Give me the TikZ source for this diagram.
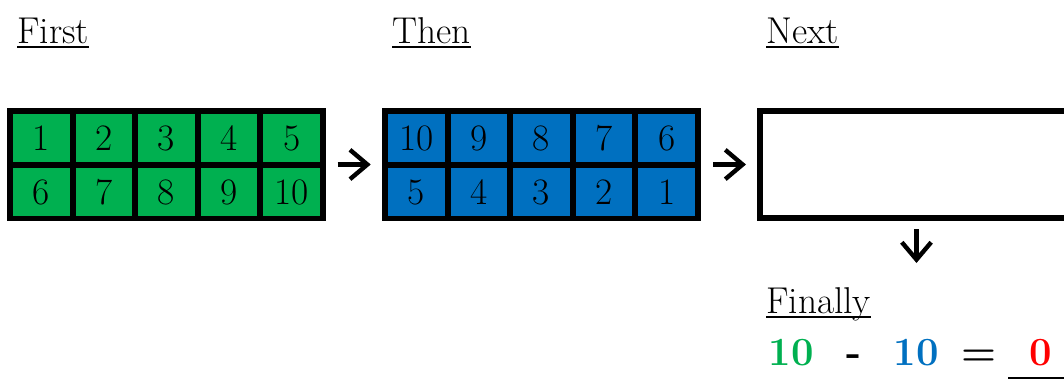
\documentclass[tikz,border=0pt]{standalone}
\usetikzlibrary{arrows.meta}
\definecolor{cgreen}{RGB}{0,176,80}
\definecolor{cblue}{RGB}{0,112,192}
\definecolor{cred}{RGB}{255,0,0}
\newcommand\myul[1]{\setbox0\hbox{#1}\rlap{\rule[-3.6pt]{\wd0}{1.6pt}}\box0}
\begin{document}
\begin{tikzpicture}[x=0.75pt,y=-0.75pt,
 frame/.style={fill=black, inner sep=0pt, minimum width=239.25pt, minimum height=84.75pt},
 cell/.style={inner sep=0pt, minimum width=42.45pt, minimum height=36pt, font=\fontsize{28}{30}\selectfont},
 greencell/.style={cell, fill=cgreen},
 bluecell/.style={cell, fill=cblue},
 emptybox/.style={draw=black, fill=white, line width=4.5pt, inner sep=0pt, minimum width=234.75pt, minimum height=80.25pt},
 title/.style={inner sep=0pt, anchor=base west, font=\fontsize{28}{30}\selectfont},
 eq/.style={inner sep=0pt, anchor=base, font=\fontsize{30}{32}\selectfont\bfseries},
 arr/.style={line width=3.3pt, -{Straight Barb[length=13pt,width=22pt]}},
 answerline/.style={line width=1.7pt},
]
\useasboundingbox (0,0) rectangle (1064,380);
\clip (0,0) rectangle (1064,380);

% titles
\node[title] (tfirst) at (17,43) {\myul{First}};
\node[title] (tthen) at (392,43) {\myul{Then}};
\node[title] (tnext) at (766,43) {\myul{Next}};
\node[title] (tfinally) at (766,313) {\myul{Finally}};

% first grid (green)
\node[frame] (gridA) at (166.5,164.5) {};
\foreach \i in {0,...,4}{
  \pgfmathtruncatemacro\top{\i+1}
  \pgfmathtruncatemacro\bot{\i+6}
  \node[greencell] (g\top) at ({41.3+62.6*\i},138) {\top};
  \node[greencell] (g\bot) at ({41.3+62.6*\i},192) {\bot};
}

% second grid (blue)
\node[frame] (gridB) at (541.5,164.5) {};
\foreach \i in {0,...,4}{
  \pgfmathtruncatemacro\top{10-\i}
  \pgfmathtruncatemacro\bot{5-\i}
  \node[bluecell] (b\top) at ({416.3+62.6*\i},138) {\top};
  \node[bluecell] (b\bot) at ({416.3+62.6*\i},192) {\bot};
}

% empty box
\node[emptybox] (next) at (916.5,164.5) {};

% arrows
\draw[arr, shorten <=8.6pt, shorten >=8.25pt] (gridA.east) -- (gridB.west);
\draw[arr, shorten <=9pt, shorten >=8.25pt] (gridB.east) -- (next.west);
\coordinate (downend) at (916.5,263);
\draw[arr, shorten <=6pt] (next.south) -- (downend);

% equation
\node[eq, text=cgreen] (e1) at (791,365) {10};
\node[eq] (eminus) at (854,365) {-};
\node[eq, text=cblue] (e2) at (916.5,365) {10};
\node[eq] (eequals) at (979,365) {=};
\node[eq, text=cred] (e3) at (1040.5,365) {0};
\coordinate (ansL) at (1008,378);
\coordinate (ansR) at (1080,378);
\draw[answerline] (ansL) -- (ansR);
\end{tikzpicture}
\end{document}
